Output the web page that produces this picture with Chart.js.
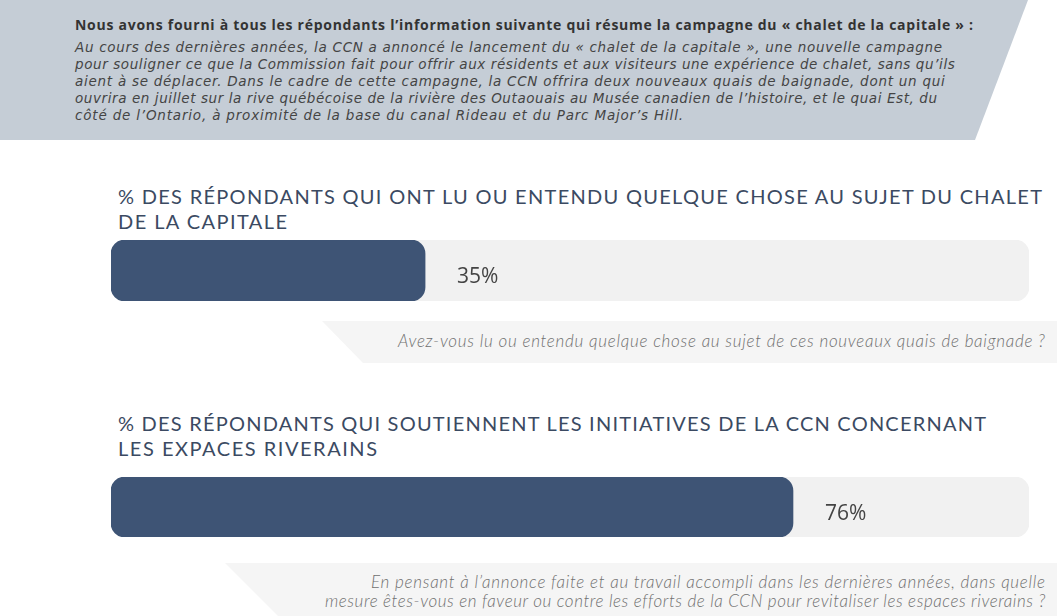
<!DOCTYPE html>
<html lang="fr">
<head>
<meta charset="utf-8">
<script src="https://cdn.jsdelivr.net/npm/chart.js@4/dist/chart.umd.min.js"></script>
<style>
  html, body { margin: 0; padding: 0; background: #ffffff; }
  #root { position: relative; width: 1057px; height: 616px; overflow: hidden; background: #fff; }
  .banner { position: absolute; left: 0; top: 0; width: 1057px; height: 140px; background: #c5cdd6;
            clip-path: polygon(0 0, 1028px 0, 975px 140px, 0 140px); }
  .qbox { position: absolute; right: 0; background: #f5f5f5; }
  .t { position: absolute; white-space: nowrap; }
  .head { font-family: "Open Sans", sans-serif; font-weight: 700; font-size: 14px; color: #333; line-height: 16px; }
  .para { font-family: "DejaVu Sans", sans-serif; font-style: italic; font-size: 13.5px; color: #444; line-height: 16px; }
  .title { font-family: "Lato", sans-serif; font-weight: 400; font-size: 20px; color: #3b4a62; line-height: 22px; }
  .q { font-family: "Lato", sans-serif; font-style: italic; font-weight: 300; font-size: 17px; color: #707070; line-height: 18px; }
  .chartbox { position: absolute; left: 111px; width: 918px; }
</style>
</head>
<body>
<div id="root">
  <div class="banner"></div>
  <div class="t head" data-x="75" data-y="25" data-r="973">Nous avons fourni à tous les répondants l’information suivante qui résume la campagne du « chalet de la capitale » :</div>
  <div class="t para" data-x="75" data-y="47" data-r="942">Au cours des dernières années, la CCN a annoncé le lancement du « chalet de la capitale », une nouvelle campagne</div>
  <div class="t para" data-x="75" data-y="64" data-r="955">pour souligner ce que la Commission fait pour offrir aux résidents et aux visiteurs une expérience de chalet, sans qu’ils</div>
  <div class="t para" data-x="75" data-y="81" data-r="945">aient à se déplacer. Dans le cadre de cette campagne, la CCN offrira deux nouveaux quais de baignade, dont un qui</div>
  <div class="t para" data-x="75" data-y="98" data-r="937">ouvrira en juillet sur la rive québécoise de la rivière des Outaouais au Musée canadien de l’histoire, et le quai Est, du</div>
  <div class="t para" data-x="75" data-y="115" data-r="683">côté de l’Ontario, à proximité de la base du canal Rideau et du Parc Major’s Hill.</div>

  <div class="t title" data-x="118" data-y="196" data-r="1042">% DES RÉPONDANTS QUI ONT LU OU ENTENDU QUELQUE CHOSE AU SUJET DU CHALET</div>
  <div class="t title" data-x="118" data-y="221" data-r="287">DE LA CAPITALE</div>

  <div class="chartbox" style="top:240px;height:61px;"><canvas id="c1"></canvas></div>

  <div class="qbox" style="top:321px;height:42px;left:322px;clip-path:polygon(0 0,100% 0,100% 100%,41px 100%);"></div>
  <div class="t q" data-x="398" data-y="341" data-r="1045">Avez-vous lu ou entendu quelque chose au sujet de ces nouveaux quais de baignade ?</div>

  <div class="t title" data-x="118" data-y="423" data-r="986">% DES RÉPONDANTS QUI SOUTIENNENT LES INITIATIVES DE LA CCN CONCERNANT</div>
  <div class="t title" data-x="118" data-y="448" data-r="377">LES EXPACES RIVERAINS</div>

  <div class="chartbox" style="top:477px;height:60px;"><canvas id="c2"></canvas></div>

  <div class="qbox" style="top:563px;height:80px;left:225px;clip-path:polygon(0 0,100% 0,100% 100%,80px 100%);"></div>
  <div class="t q" data-x="371" data-y="582" data-r="1045">En pensant à l’annonce faite et au travail accompli dans les dernières années, dans quelle</div>
  <div class="t q" data-x="325" data-y="601" data-r="1045">mesure êtes-vous en faveur ou contre les efforts de la CCN pour revitaliser les espaces riverains ?</div>
</div>

<script>
// ---- Data ----
const categories = ["Ont lu ou entendu quelque chose au sujet du chalet de la capitale",
                    "Soutiennent les initiatives de la CCN concernant les espaces riverains"];
const values = [35, 76];          // % des répondants
const scaleMax = 102.3;           // full length of the grey track (axis maximum)

// ---- Fit text lines to their measured extents in the reference ----
function fitText() {
  document.querySelectorAll('.t').forEach(el => {
    const x = +el.dataset.x, y = +el.dataset.y, r = +el.dataset.r;
    el.style.letterSpacing = '0px';
    el.style.left = x + 'px';
    const lh = parseFloat(getComputedStyle(el).lineHeight);
    el.style.top = (y - lh / 2) + 'px';
    const w = el.getBoundingClientRect().width;
    const n = el.textContent.length;
    const ls = (r - x - w) / Math.max(1, n - 1);
    el.style.letterSpacing = ls.toFixed(3) + 'px';
  });
}

const valueLabel = {
  id: 'valueLabel',
  afterDatasetsDraw(chart) {
    const meta = chart.getDatasetMeta(0);
    const ctx = chart.ctx;
    ctx.save();
    ctx.font = '400 21px "Open Sans", sans-serif';
    ctx.fillStyle = '#444';
    ctx.textBaseline = 'middle';
    ctx.textAlign = 'left';
    meta.data.forEach((el, i) => {
      const v = chart.data.datasets[0].data[i];
      ctx.fillText(v + '%', el.x + 32, el.y + 7);
    });
    ctx.restore();
  }
};

function makeChart(id, idx) {
  new Chart(document.getElementById(id), {
    type: 'bar',
    data: {
      labels: [categories[idx]],
      datasets: [
        { data: [values[idx]], backgroundColor: '#3e5475', borderRadius: 14, borderSkipped: false,
          barPercentage: 1, categoryPercentage: 1, grouped: false },
        { data: [scaleMax], backgroundColor: '#f1f1f1', borderRadius: 14, borderSkipped: false,
          barPercentage: 1, categoryPercentage: 1, grouped: false }
      ]
    },
    options: {
      indexAxis: 'y',
      responsive: true,
      maintainAspectRatio: false,
      animation: false,
      layout: { padding: 0 },
      scales: {
        x: { display: false, min: 0, max: scaleMax },
        y: { display: false }
      },
      plugins: { legend: { display: false }, tooltip: { enabled: false } }
    },
    plugins: [valueLabel]
  });
}

fitText();
makeChart('c1', 0);
makeChart('c2', 1);
</script>
</body>
</html>
